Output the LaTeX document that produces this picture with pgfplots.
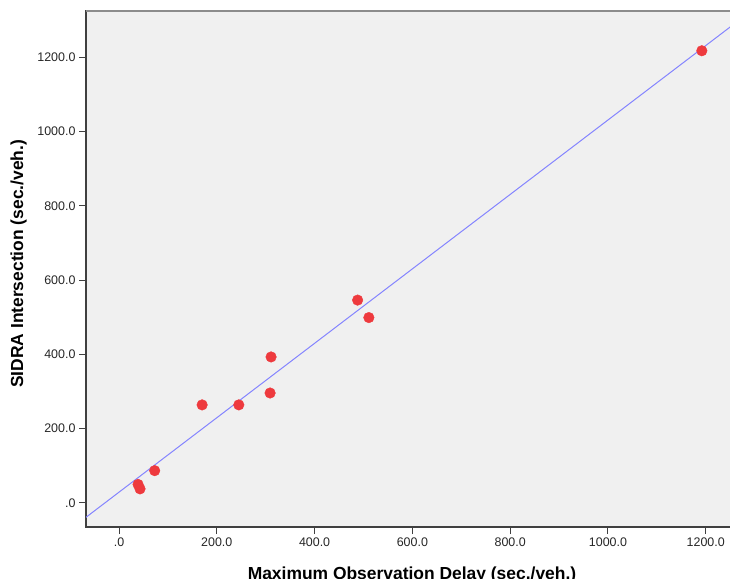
\documentclass[border=0pt]{standalone}
\usepackage{fontspec}
\setmainfont{Liberation Sans}
\usepackage{pgfplots}
\pgfplotsset{compat=1.18}
\definecolor{spssbg}{HTML}{F0F0F0}
\definecolor{ptred}{HTML}{EE3A3E}
\definecolor{fitblue}{HTML}{8484FF}
\definecolor{frame}{HTML}{404040}

\begin{document}
\begin{tikzpicture}
\begin{axis}[
    at={(86bp,52bp)}, anchor=south west,
    scale only axis,
    width=652bp, height=516bp,
    xmin=-67.5, xmax=1266,
    ymin=-64.6, ymax=1324,
    clip mode=individual,
    axis background/.style={fill=spssbg},
    axis line style={draw=frame, line width=1.2pt},
    tick pos=left,
    tick align=outside,
    major tick length=7bp,
    tick style={draw=frame, line width=1pt},
    xtick={0,200,400,600,800,1000,1200},
    xticklabels={.0,200.0,400.0,600.0,800.0,1000.0,1200.0},
    ytick={0,200,400,600,800,1000,1200},
    yticklabels={.0,200.0,400.0,600.0,800.0,1000.0,1200.0},
    tick label style={font=\fontsize{12.5}{14}\selectfont, text=black!85},
    xlabel={Maximum Observation Delay (sec./veh.)},
    ylabel={SIDRA Intersection (sec./veh.)},
    label style={font=\fontsize{17.5}{20}\selectfont\bfseries},
    xlabel style={at={(axis description cs:0.5,-0.1027)}, anchor=base},
    ylabel style={at={(axis description cs:-0.0966,0.51)}, anchor=base},
]
% fit line, end points
\addplot[fitblue, line width=1pt] coordinates {(-70,-41) (1270,1301)};
% observations
\addplot[only marks, mark=*, mark size=5.3bp, mark options={fill=ptred, draw=ptred}]
coordinates {
(1192,1217) (488,546) (511,499) (311,393) (309,296)
(245,264) (170,264) (73,87) (39,50) (43,38)
};
\draw[gray!90, line width=2.2pt] (rel axis cs:0,1) -- (rel axis cs:1,1);
\end{axis}
\pgfresetboundingbox
\useasboundingbox (0,0) rectangle (730bp,579bp);
\end{tikzpicture}
\end{document}
